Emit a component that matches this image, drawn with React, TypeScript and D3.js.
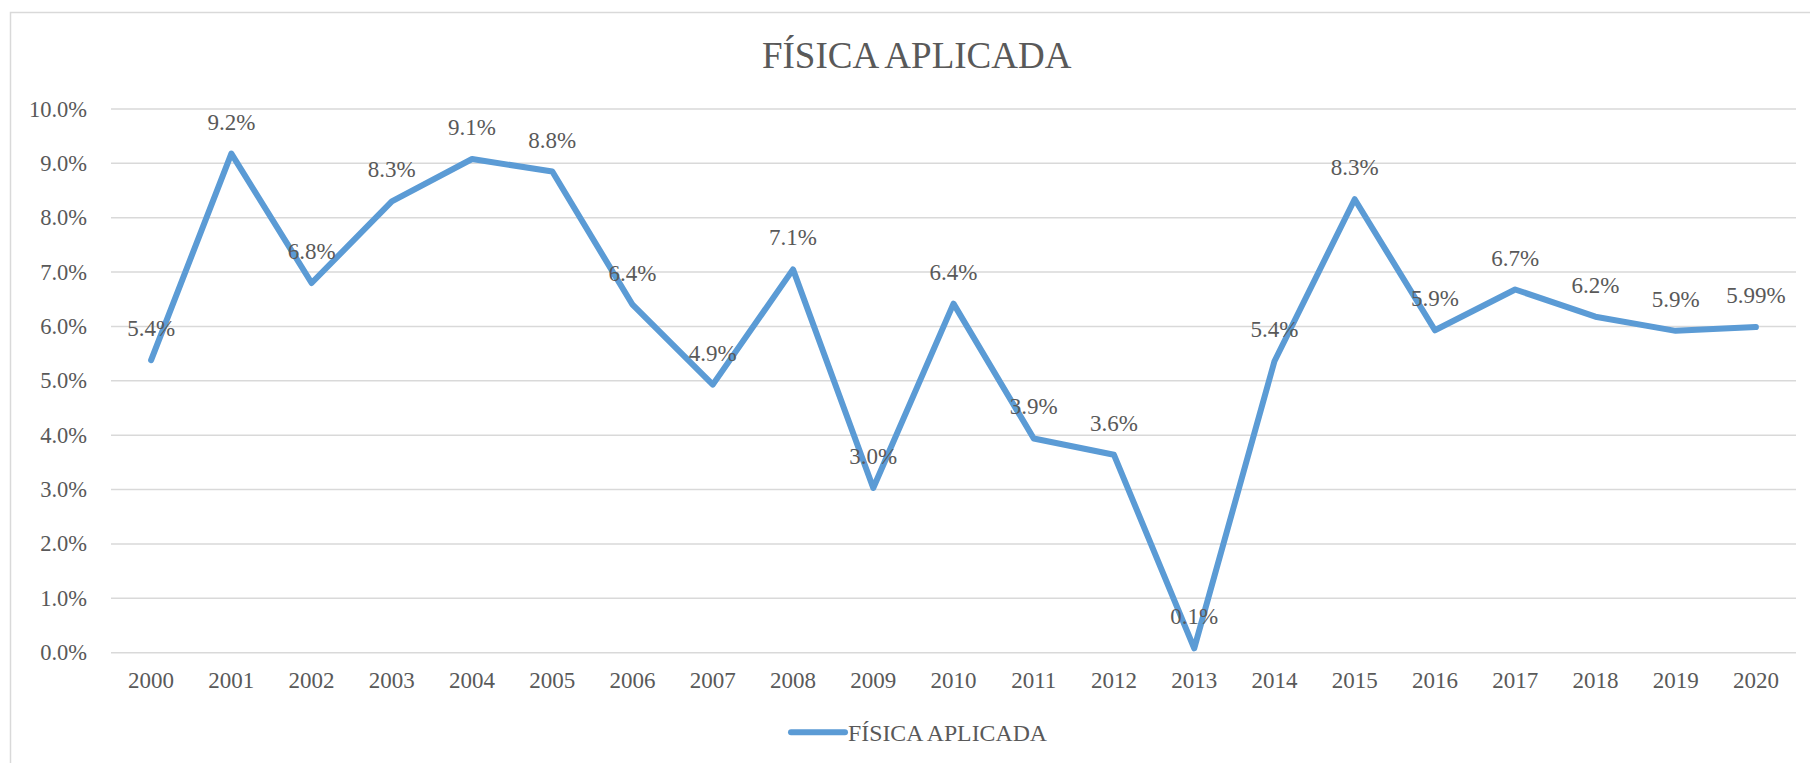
import * as d3 from 'd3';

const TITLE = 'FÍSICA APLICADA';
const SERIES_NAME = 'FÍSICA APLICADA';

const YEARS = [
  '2000', '2001', '2002', '2003', '2004', '2005', '2006', '2007', '2008', '2009', '2010',
  '2011', '2012', '2013', '2014', '2015', '2016', '2017', '2018', '2019', '2020',
];

// percent values
const VALUES = [
  5.38, 9.18, 6.8, 8.3, 9.08, 8.85, 6.4, 4.93, 7.05, 3.03, 6.42,
  3.94, 3.64, 0.08, 5.36, 8.34, 5.93, 6.68, 6.18, 5.92, 5.99,
];

const DATA_LABELS = [
  '5.4%', '9.2%', '6.8%', '8.3%', '9.1%', '8.8%', '6.4%', '4.9%', '7.1%', '3.0%', '6.4%',
  '3.9%', '3.6%', '0.1%', '5.4%', '8.3%', '5.9%', '6.7%', '6.2%', '5.9%', '5.99%',
];

const Y_TICKS = [0, 1, 2, 3, 4, 5, 6, 7, 8, 9, 10];

const W = 1810;
const H = 763;
const FONT = 'Liberation Serif';
const TEXT = '#595959';
const GRID = '#d9d9d9';
const LINE = '#5b9bd5';

export default function App() {
  const x = d3.scaleBand<string>().domain(YEARS).range([111, 1796]);
  const y = d3.scaleLinear().domain([0, 10]).range([652.7, 109]);
  const cx = (yr: string) => (x(yr) ?? 0) + x.bandwidth() / 2;

  const line = d3
    .line<number>()
    .x((_, i) => cx(YEARS[i]))
    .y((d) => y(d));

  return (
    <div style={{ position: 'fixed', left: 0, top: 0, width: W, height: H, overflow: 'hidden', background: '#fff' }}>
      <svg width={W} height={H} style={{ display: 'block' }}>
        <rect x={10.5} y={12.5} width={W + 20} height={H + 20} fill="#fff" stroke={GRID} strokeWidth={1.5} />

        <text x={916.7} y={68} textAnchor="middle" fontFamily={FONT} fontSize={37} fill={TEXT}>
          {TITLE}
        </text>

        {Y_TICKS.map((t) => (
          <g key={t}>
            <line x1={111} x2={1796} y1={y(t)} y2={y(t)} stroke={GRID} strokeWidth={1.5} />
            <text x={87} y={y(t) + 7.5} textAnchor="end" fontFamily={FONT} fontSize={22.5} fill={TEXT}>
              {d3.format('.1f')(t)}%
            </text>
          </g>
        ))}

        {YEARS.map((yr) => (
          <text key={yr} x={cx(yr)} y={688} textAnchor="middle" fontFamily={FONT} fontSize={23} fill={TEXT}>
            {yr}
          </text>
        ))}

        <path
          d={line(VALUES) ?? ''}
          fill="none"
          stroke={LINE}
          strokeWidth={6}
          strokeLinejoin="round"
          strokeLinecap="round"
        />

        {VALUES.map((v, i) => (
          <text
            key={YEARS[i]}
            x={cx(YEARS[i])}
            y={y(v) - 24}
            textAnchor="middle"
            fontFamily={FONT}
            fontSize={23}
            fill={TEXT}
          >
            {DATA_LABELS[i]}
          </text>
        ))}

        <line x1={791} x2={845} y1={732.3} y2={732.3} stroke={LINE} strokeWidth={6} strokeLinecap="round" />
        <text x={848} y={740.5} fontFamily={FONT} fontSize={23.8} fill={TEXT}>
          {SERIES_NAME}
        </text>
      </svg>
    </div>
  );
}
